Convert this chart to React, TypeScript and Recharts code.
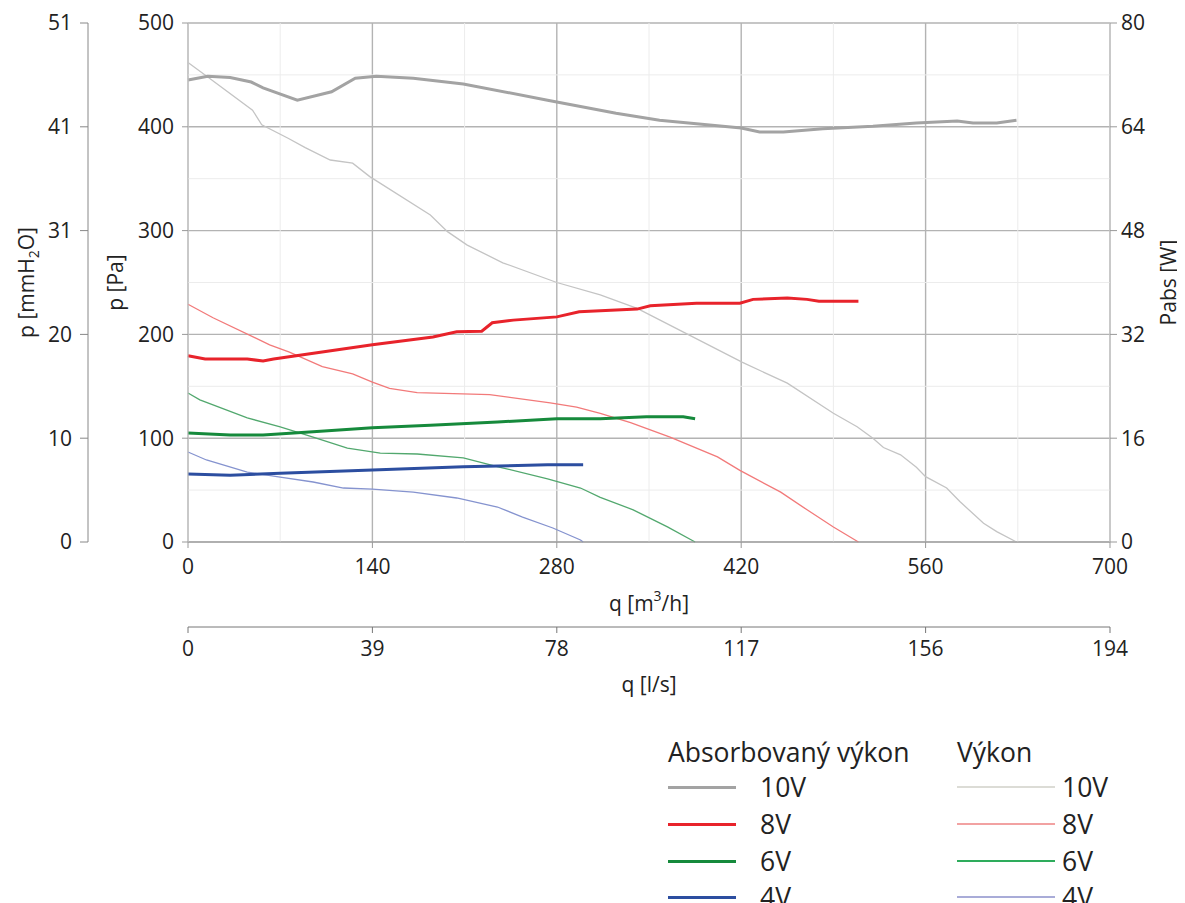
import React from 'react';
import { LineChart, Line, XAxis, YAxis, CartesianGrid, ReferenceLine } from 'recharts';

// flow q [m3/h] and values
const q10p = [0, 15, 49, 56, 76, 89, 108, 125, 138, 184, 197, 212, 239, 280, 313, 341, 381, 421, 455, 490, 508, 520, 528, 541, 553, 560, 576, 586, 604, 614, 629];
const p10 = [462, 448, 416, 402, 389, 380, 368, 365, 352, 315, 299, 286, 269, 250, 238, 225, 199, 173, 153, 124, 111, 100, 91, 84, 72, 63, 52, 39, 18, 10, 0];
const q10w = [0, 15, 32, 48, 57, 83, 109, 127, 143, 171, 209, 273, 325, 358, 390, 420, 434, 452, 482, 520, 553, 584, 596, 614, 629];
const w10 = [71.2, 71.8, 71.6, 70.9, 70.0, 68.1, 69.4, 71.5, 71.8, 71.5, 70.6, 68.1, 66.1, 65.0, 64.4, 63.8, 63.2, 63.2, 63.7, 64.1, 64.6, 64.9, 64.6, 64.6, 65.0];

const q8p = [0, 19, 62, 77, 102, 125, 140, 153, 174, 229, 275, 295, 313, 336, 366, 402, 419, 450, 470, 490, 509];
const p8 = [229, 216, 190, 183, 169, 162, 154, 148, 144, 142, 134, 130, 124, 115, 101, 82, 69, 48, 31, 14.5, 0];
const q8w = [0, 13, 45, 57, 65, 140, 186, 204, 223, 231, 247, 280, 297, 341, 351, 386, 419, 429, 455, 470, 479, 509];
const w8 = [28.7, 28.2, 28.2, 27.9, 28.2, 30.4, 31.6, 32.4, 32.5, 33.8, 34.2, 34.7, 35.5, 35.9, 36.4, 36.8, 36.8, 37.4, 37.6, 37.4, 37.1, 37.1];

const q6p = [0, 9, 45, 70, 95, 121, 146, 174, 209, 237, 273, 298, 313, 338, 364, 385];
const p6 = [143.5, 137, 119.5, 111, 101, 90.5, 85.7, 84.8, 81, 72, 60.7, 52, 43, 31, 14.5, 0];
const q6w = [0, 32, 57, 95, 140, 184, 235, 280, 313, 348, 376, 385];
const w6 = [16.8, 16.5, 16.5, 17.0, 17.6, 18.0, 18.5, 19.0, 19.0, 19.3, 19.3, 19.0];

const q4p = [0, 14, 45, 70, 95, 118, 140, 171, 204, 235, 254, 277, 298, 300];
const p4 = [86.7, 79, 67.4, 62.6, 57.8, 52, 51, 48, 42.4, 33.7, 24, 13.5, 1.9, 0];
const q4w = [0, 32, 70, 140, 209, 273, 300];
const w4 = [10.5, 10.3, 10.6, 11.1, 11.6, 11.9, 11.9];

const qTicks = [0, 140, 280, 420, 560, 700];
const lsLabels = ['0', '39', '78', '117', '156', '194'];
const paTicks = [0, 100, 200, 300, 400, 500];
const mmLabels = ['0', '10', '20', '31', '41', '51'];
const wTicks = [0, 16, 32, 48, 64, 80];
const minorQ = [70, 210, 350, 490, 630];
const minorP = [50, 150, 250, 350, 450];

const voltages = ['10V', '8V', '6V', '4V'];
const thickColors = ['#a3a3a3', '#e8232b', '#168a3c', '#2c4ea0'];
const thinColors = ['#c4c4c4', '#f27a7a', '#52a86e', '#8593cf'];
const legendThin = ['#dcdcd6', '#f2a2a2', '#2eac5c', '#a9acd8'];

const zip = (xs: number[], ys: number[]) => xs.map((q, i) => ({ q, v: ys[i] }));

const pressure = [zip(q10p, p10), zip(q8p, p8), zip(q6p, p6), zip(q4p, p4)];
const power = [zip(q10w, w10), zip(q8w, w8), zip(q6w, w6), zip(q4w, w4)];

const tickStyle = { fill: '#222', fontSize: 21 };

const vTitle = (dx: number, parts: React.ReactNode) => (props: any) => {
  const vb = props.viewBox || {};
  const cx = vb.x + dx;
  const cy = vb.y + vb.height / 2;
  return (
    <text x={cx} y={cy} transform={`rotate(-90, ${cx}, ${cy})`} textAnchor="middle" dominantBaseline="central" fill="#222" fontSize={21}>
      {parts}
    </text>
  );
};

const hTitle = (dy: number, parts: React.ReactNode) => (props: any) => {
  const vb = props.viewBox || {};
  return (
    <text x={vb.x + vb.width / 2} y={vb.y + dy} textAnchor="middle" dominantBaseline="central" fill="#222" fontSize={21}>
      {parts}
    </text>
  );
};

const rowY = [787, 824, 861, 897];
const legendFont = 26.5;

// axis ids: the first one (alphabetically) sits next to the plot
const X_M3 = 'a_m3';
const X_LS = 'b_ls';
const Y_PA = 'a_pa';
const Y_MM = 'b_mm';
const Y_W = 'c_w';

export default function App() {
  return (
    <div style={{ position: 'relative', width: 1177, height: 895, overflow: 'hidden', fontFamily: "'Open Sans', sans-serif", color: '#222' }}>
      <style>{'body{overflow:hidden}'}</style>
      <LineChart width={1177} height={720} margin={{ top: 15, right: 0, left: 0, bottom: 21 }}>
        {minorQ.map((q) => (
          <ReferenceLine key={'mq' + q} x={q} xAxisId={X_M3} yAxisId={Y_PA} stroke="#ececec" strokeWidth={1} />
        ))}
        {minorP.map((p) => (
          <ReferenceLine key={'mp' + p} y={p} xAxisId={X_M3} yAxisId={Y_PA} stroke="#ececec" strokeWidth={1} />
        ))}
        <CartesianGrid xAxisId={X_M3} yAxisId={Y_PA} stroke="#b3b3b3" strokeWidth={1.4} />
        <XAxis
          xAxisId={X_M3}
          dataKey="q"
          type="number"
          domain={[0, 700]}
          ticks={qTicks}
          height={85}
          tickSize={6}
          tickMargin={11}
          stroke="#999"
          tick={tickStyle}
          interval={0}
          label={hTitle(61, (
            <>
              q [m<tspan dy={-8} fontSize={14}>3</tspan>
              <tspan dy={8}>/h]</tspan>
            </>
          ))}
        />
        <XAxis
          xAxisId={X_LS}
          dataKey="q"
          type="number"
          domain={[0, 700]}
          allowDataOverflow
          ticks={qTicks}
          tickFormatter={(v: number) => lsLabels[qTicks.indexOf(v)]}
          height={80}
          tickSize={6}
          tickMargin={8}
          stroke="#777"
          tick={tickStyle}
          interval={0}
          label={hTitle(57, 'q [l/s]')}
        />
        <YAxis
          yAxisId={Y_PA}
          type="number"
          domain={[0, 500]}
          ticks={paTicks}
          width={100}
          tickSize={6}
          tickMargin={8}
          stroke="#c8c8c8"
          tickLine={{ stroke: '#999' }}
          tick={tickStyle}
          interval={0}
          label={vTitle(27, 'p [Pa]')}
        />
        <YAxis
          yAxisId={Y_MM}
          type="number"
          domain={[0, 500]}
          allowDataOverflow
          ticks={paTicks}
          tickFormatter={(v: number) => mmLabels[paTicks.indexOf(v)]}
          width={80}
          tickSize={8}
          tickMargin={8}
          stroke="#888"
          tick={tickStyle}
          interval={0}
          label={vTitle(18, (
            <>
              p [mmH<tspan dy={7} fontSize={14}>2</tspan>
              <tspan dy={-7}>O]</tspan>
            </>
          ))}
        />
        <YAxis
          yAxisId={Y_W}
          orientation="right"
          type="number"
          domain={[0, 80]}
          ticks={wTicks}
          width={75}
          tickSize={7}
          tickMargin={4}
          stroke="#c8c8c8"
          tickLine={{ stroke: '#999' }}
          tick={tickStyle}
          interval={0}
          label={vTitle(58, 'Pabs [W]')}
        />
        {/* the l/s axis is the same flow scale; it needs a series to get its ticks */}
        <Line
          data={pressure[0]}
          dataKey="v"
          xAxisId={X_LS}
          yAxisId={Y_PA}
          stroke="transparent"
          strokeWidth={0}
          dot={false}
          activeDot={false}
          legendType="none"
          isAnimationActive={false}
        />
        {pressure.map((d, i) => (
          <Line
            key={'p' + i}
            data={d}
            dataKey="v"
            xAxisId={X_M3}
            yAxisId={Y_PA}
            type="linear"
            stroke={thinColors[i]}
            strokeWidth={1.3}
            dot={false}
            activeDot={false}
            isAnimationActive={false}
          />
        ))}
        {power.map((d, i) => (
          <Line
            key={'w' + i}
            data={d}
            dataKey="v"
            xAxisId={X_M3}
            yAxisId={Y_W}
            type="linear"
            stroke={thickColors[i]}
            strokeWidth={3}
            dot={false}
            activeDot={false}
            isAnimationActive={false}
          />
        ))}
      </LineChart>

      <div style={{ position: 'absolute', left: 660, top: 752 - 8 - 18, fontSize: legendFont, lineHeight: '36px', whiteSpace: 'nowrap' }}>
        Absorbovaný výkon
      </div>
      <div style={{ position: 'absolute', left: 949, top: 752 - 8 - 18, fontSize: legendFont, lineHeight: '36px', whiteSpace: 'nowrap' }}>
        Výkon
      </div>
      {voltages.map((v, i) => (
        <React.Fragment key={v}>
          <div style={{ position: 'absolute', left: 660, top: rowY[i] - 8 - 1.5, width: 68, height: 3, background: thickColors[i] }} />
          <div style={{ position: 'absolute', left: 752, top: rowY[i] - 8 - 18, fontSize: legendFont, lineHeight: '36px' }}>{v}</div>
          <div style={{ position: 'absolute', left: 949, top: rowY[i] - 8 - 1, width: 98, height: 2, background: legendThin[i] }} />
          <div style={{ position: 'absolute', left: 1054, top: rowY[i] - 8 - 18, fontSize: legendFont, lineHeight: '36px' }}>{v}</div>
        </React.Fragment>
      ))}
    </div>
  );
}
